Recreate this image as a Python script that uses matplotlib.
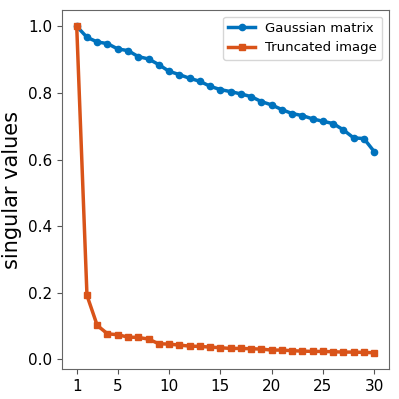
import matplotlib
matplotlib.use("Agg")
import matplotlib.pyplot as plt

x_vals = list(range(1, 31))
gaussian = [1.0, 0.967, 0.953, 0.948, 0.932, 0.927, 0.909, 0.902, 0.885, 0.865,
            0.855, 0.844, 0.835, 0.820, 0.810, 0.804, 0.797, 0.789, 0.774, 0.764,
            0.750, 0.738, 0.732, 0.722, 0.715, 0.708, 0.689, 0.665, 0.663, 0.624]
truncated = [1.0, 0.192, 0.102, 0.077, 0.074, 0.067, 0.066, 0.061, 0.047, 0.046,
             0.043, 0.040, 0.039, 0.037, 0.035, 0.033, 0.033, 0.032, 0.031, 0.028,
             0.028, 0.026, 0.025, 0.024, 0.024, 0.023, 0.022, 0.022, 0.021, 0.020]
xtick_vals = [1, 5, 10, 15, 20, 25, 30]

fig = plt.figure(figsize=(3.99, 3.99), dpi=100)
ax = fig.add_axes([0.155, 0.075, 0.82, 0.90])

ax.plot(x_vals, gaussian, "-o", color="#0072BD", lw=2.5, ms=4.5, label="Gaussian matrix")
ax.plot(x_vals, truncated, "-s", color="#D95319", lw=2.5, ms=4.5, label="Truncated image")

ax.set_xticks(xtick_vals)
ax.set_yticks([0.0, 0.2, 0.4, 0.6, 0.8, 1.0])
ax.tick_params(labelsize=11, color="#555555")
for s in ax.spines.values():
    s.set_color("#666666")
ax.set_ylabel("singular values", fontsize=15)
ax.legend(loc="upper right", fontsize=9.5)

fig.savefig("out.png", dpi=100)
